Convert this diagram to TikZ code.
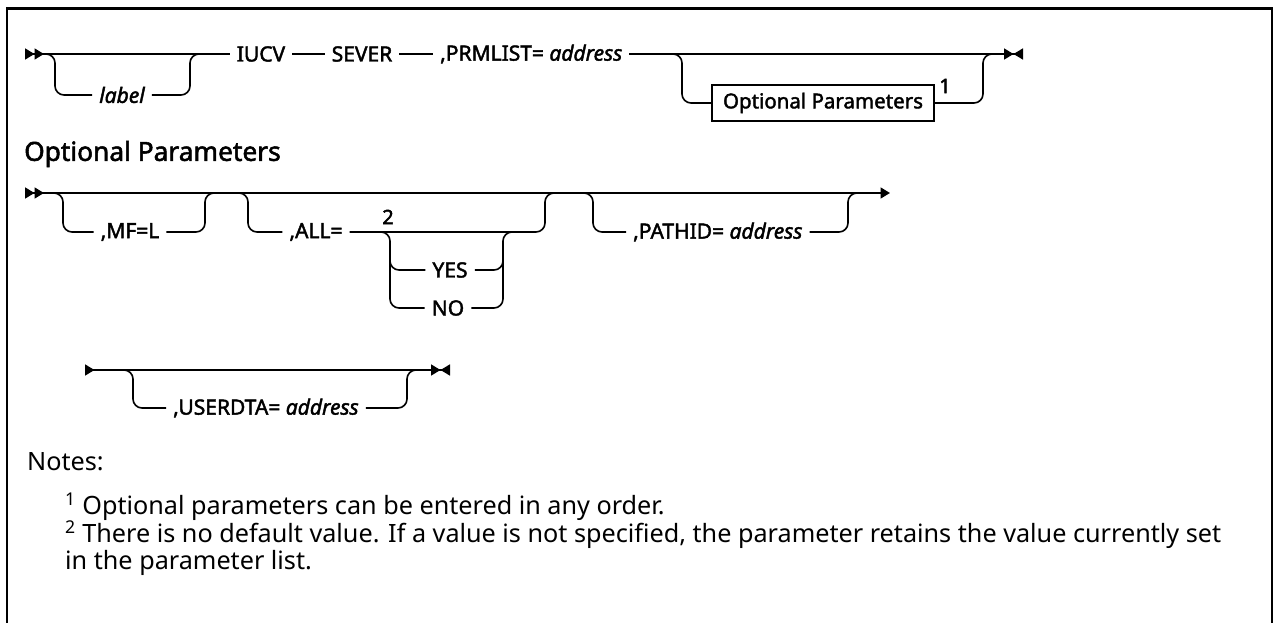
\documentclass[tikz,border=0pt]{standalone}
\usepackage{fontspec}
\setmainfont{Noto Sans}[AutoFakeBold=2]
\newfontfamily\labfont{Noto Sans}[AutoFakeBold=2, ItalicFeatures={FakeBold=2}]
\newcommand{\addr}{{\mdseries\itshape address}}
\usetikzlibrary{arrows.meta}
\tikzset{
  tri/.tip={Triangle[length=9.5pt,width=11pt,sep=0pt]},
  rtri/.tip={Triangle[length=9.5pt,width=11pt,sep=0pt,reversed]},
}
\begin{document}
\begin{tikzpicture}[x=1pt,y=-1pt,
  rail/.style={line width=1.6pt, rounded corners=9pt},
  lab/.style={font=\labfont\fontsize{21}{25}\selectfont\bfseries, inner xsep=7pt, inner ysep=2pt},
  ilab/.style={lab, font=\labfont\fontsize{21}{25}\selectfont\mdseries\itshape},
  optbox/.style={draw, line width=1.3pt, minimum width=222pt, minimum height=36pt, inner sep=0pt,
     font=\labfont\fontsize{20.5}{24}\selectfont\bfseries},
  fnum/.style={font=\labfont\fontsize{20}{24}\selectfont\bfseries, inner sep=0pt},
  note/.style={font=\fontsize{25.2}{30}\selectfont, anchor=west, inner sep=0pt},
  head/.style={font=\labfont\fontsize{26.3}{31}\selectfont\bfseries, anchor=west, inner sep=0pt},
]
\useasboundingbox (0,0) rectangle (1274,623);
% frame
\draw[line width=2.6pt] (7,623) -- (7,8.5) -- (1272,8.5) -- (1272,623);

% ---------- row 1 ----------
\coordinate (r1s) at (25,54);
\coordinate (r1e) at (1023,54);
\node[lab] (iucv) at (261,54) {IUCV};
\node[lab] (sever) at (362,54) {SEVER};
\node[lab, anchor=west] (prm) at (433,54) {,PRMLIST= \addr};
\node[ilab] (label) at (122,95) {label};
\node[optbox] (opt) at (823,103) {Optional Parameters};
\node[fnum] (f1) at (945,86) {1};

\draw[rail, {rtri[]rtri[]}-] (r1s) -- (iucv);
\draw[rail] (iucv) -- (sever);
\draw[rail] (sever) -- (prm);
\draw[rail, -{tri[]rtri[]}] (prm.east) -- (r1e);
\coordinate (la) at (43,54);
\coordinate (lb) at (202,54);
\draw[rail] (la) -- (55,54) -- (55,95) -- (label.west);
\draw[rail] (label.east) -- (190,95) -- (190,54) -- (lb);
\coordinate (oa) at (670,54);
\coordinate (ob) at (995,54);
\draw[rail] (oa) -- (682,54) -- (682,103) -- (opt.west);
\draw[rail] (opt.east) -- (983,103) -- (983,54) -- (ob);

% ---------- heading ----------
\node[head] (hd) at (24,154) {Optional Parameters};

% ---------- row 2 ----------
\coordinate (r2s) at (25,193);
\coordinate (r2e) at (890,193);
\draw[rail, {rtri[]rtri[]}-{tri[]}] (r2s) -- (r2e);
\node[lab] (mf) at (130,232) {,MF=L};
\coordinate (ma) at (51,193);
\coordinate (mb) at (217,193);
\draw[rail] (ma) -- (63,193) -- (63,232) -- (mf.west);
\draw[rail] (mf.east) -- (205,232) -- (205,193) -- (mb);

\node[lab] (all) at (316,232) {,ALL=};
\coordinate (aa) at (236,193);
\coordinate (ab) at (557,193);
\draw[rail] (aa) -- (248,193) -- (248,232) -- (all.west);
\draw[rail] (all.east) -- (545,232) -- (545,193) -- (ab);
\node[fnum] (f2) at (388,217) {2};
\node[lab] (yes) at (450,270) {YES};
\node[lab] (no) at (448,308) {NO};
\coordinate (ya) at (378,232);
\coordinate (yb) at (515,232);
\draw[rail] (ya) -- (390,232) -- (390,308) -- (no.west);
\draw[rail] (390,256) -- (390,270) -- (yes.west);
\draw[rail] (no.east) -- (503,308) -- (503,232) -- (yb);
\draw[rail] (yes.east) -- (503,270) -- (503,256);

\node[lab, anchor=west] (pid) at (626,232) {,PATHID= \addr};
\coordinate (pa) at (581,193);
\coordinate (pb) at (860,193);
\draw[rail] (pa) -- (593,193) -- (593,232) -- (pid.west);
\draw[rail] (pid.east) -- (848,232) -- (848,193) -- (pb);

% ---------- row 3 ----------
\coordinate (r3s) at (85,370);
\coordinate (r3e) at (450,370);
\draw[rail, {rtri[]}-{tri[]rtri[]}] (r3s) -- (r3e);
\node[lab, anchor=west] (ud) at (166,408) {,USERDTA= \addr};
\coordinate (ua) at (121,370);
\coordinate (ub) at (419,370);
\draw[rail] (ua) -- (133,370) -- (133,408) -- (ud.west);
\draw[rail] (ud.east) -- (407,408) -- (407,370) -- (ub);

% ---------- notes ----------
\node[note] (notes) at (27,462) {Notes:};
\node[note] (n1) at (65,507) {\textsuperscript{1} Optional parameters can be entered in any order.};
\node[note] (n2) at (65,535) {\textsuperscript{2} There is no default value. If a value is not specified, the parameter retains the value currently set};
\node[note] (n3) at (65,563) {in the parameter list.};
\end{tikzpicture}
\end{document}
